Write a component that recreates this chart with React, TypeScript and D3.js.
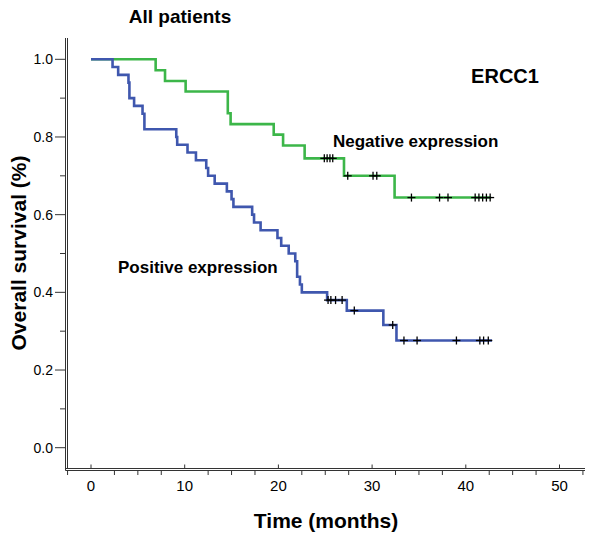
import React, { useEffect, useRef } from 'react';
import * as d3 from 'd3';

// Kaplan-Meier steps (months, survival proportion)
const negTimes = [0, 6.9, 7.9, 10.1, 14.6, 14.9, 19.5, 20.5, 22.8, 27.0, 32.4, 42.7];
const negSurv = [1.0, 0.972, 0.944, 0.917, 0.861, 0.833, 0.806, 0.778, 0.745, 0.70, 0.644, 0.644];
const negCensor = [24.9, 25.2, 25.5, 25.8, 27.4, 30.1, 30.5, 34.2, 37.2, 38.1, 41.0, 41.4, 41.8, 42.2, 42.6];

const posTimes = [0, 2.3, 2.9, 4.0, 4.1, 4.6, 5.5, 5.7, 9.1, 9.2, 10.3, 11.2, 12.3, 12.5, 13.2, 14.5, 15.0, 15.2,
  17.2, 17.4, 18.1, 19.9, 20.3, 21.1, 21.8, 22.0, 22.3, 22.5, 25.2, 27.3, 31.2, 32.6, 42.8];
const posSurv = [1.0, 0.98, 0.96, 0.94, 0.90, 0.88, 0.86, 0.82, 0.80, 0.78, 0.76, 0.74, 0.72, 0.70, 0.68, 0.66, 0.64, 0.62,
  0.60, 0.58, 0.56, 0.54, 0.52, 0.50, 0.48, 0.44, 0.42, 0.40, 0.38, 0.353, 0.316, 0.276, 0.276];
const posCensor = [25.3, 25.6, 26.1, 26.8, 28.1, 32.2, 33.4, 34.8, 39.0, 41.5, 41.9, 42.4];

const xTicks = [0, 10, 20, 30, 40, 50];
const xMinor = [-2.5, 2.5, 5, 7.5, 12.5, 15, 17.5, 22.5, 25, 27.5, 32.5, 35, 37.5, 42.5, 45, 47.5, 52.5];
const yTicks = [0, 0.2, 0.4, 0.6, 0.8, 1.0];
const yMinor = [0.1, 0.3, 0.5, 0.7, 0.9];

const FONT = '"Liberation Sans", Arial, sans-serif';

export default function App() {
  const ref = useRef<SVGSVGElement>(null);

  useEffect(() => {
    const svg = d3.select(ref.current);
    svg.selectAll('*').remove();

    const x = d3.scaleLinear().domain([0, 50]).range([91, 559.5]);
    const y = d3.scaleLinear().domain([0, 1]).range([447.7, 59.3]);
    const axisX = 65.5;
    const axisY = 468.5;
    const axisRight = 585;
    const axisTop = 38;

    // axes (double line like SPSS output)
    const ax = svg.append('g').attr('stroke', '#333').attr('stroke-width', 1);
    ax.append('line').attr('x1', axisX).attr('x2', axisX).attr('y1', axisTop).attr('y2', axisY + 2);
    ax.append('line').attr('x1', axisX + 2).attr('x2', axisX + 2).attr('y1', axisTop).attr('y2', axisY);
    ax.append('line').attr('x1', axisX).attr('x2', axisRight).attr('y1', axisY).attr('y2', axisY);
    ax.append('line').attr('x1', axisX).attr('x2', axisRight).attr('y1', axisY + 2).attr('y2', axisY + 2);

    // y ticks
    yTicks.forEach(d => {
      ax.append('line').attr('x1', 55).attr('x2', axisX).attr('y1', y(d)).attr('y2', y(d));
      svg.append('text')
        .attr('x', 53).attr('y', y(d)).attr('dy', '0.36em')
        .attr('text-anchor', 'end')
        .style('font-family', FONT).style('font-size', '14px')
        .text(d.toFixed(1));
    });
    yMinor.forEach(d => {
      ax.append('line').attr('x1', 60).attr('x2', axisX).attr('y1', y(d)).attr('y2', y(d));
    });

    // x ticks
    xTicks.forEach(d => {
      ax.append('line').attr('x1', x(d)).attr('x2', x(d)).attr('y1', 464.5).attr('y2', axisY);
      svg.append('text')
        .attr('x', x(d)).attr('y', 490.5)
        .attr('text-anchor', 'middle')
        .style('font-family', FONT).style('font-size', '15px')
        .text(d);
    });
    xMinor.forEach(d => {
      ax.append('line').attr('x1', x(d)).attr('x2', x(d)).attr('y1', axisY + 2).attr('y2', 475);
    });

    // curves
    const line = d3.line<[number, number]>()
      .x(d => x(d[0]))
      .y(d => y(d[1]))
      .curve(d3.curveStepAfter);

    function drawCurve(times: number[], surv: number[], censor: number[], color: string) {
      const pts = times.map((t, i) => [t, surv[i]] as [number, number]);
      svg.append('path')
        .attr('d', line(pts))
        .attr('fill', 'none')
        .attr('stroke', color)
        .attr('stroke-width', 2.6);
      const bis = d3.bisector((t: number) => t).right;
      censor.forEach(c => {
        const s = surv[Math.max(0, bis(times, c) - 1)];
        const cx = x(c), cy = y(s);
        const g = svg.append('g').attr('stroke', '#000').attr('stroke-width', 1.3);
        g.append('line').attr('x1', cx - 4).attr('x2', cx + 4).attr('y1', cy).attr('y2', cy);
        g.append('line').attr('x1', cx).attr('x2', cx).attr('y1', cy - 4).attr('y2', cy + 4);
      });
    }

    drawCurve(negTimes, negSurv, negCensor, '#3cb649');
    drawCurve(posTimes, posSurv, posCensor, '#3f57ae');

    // text
    const bold = (sel: any, size: number) =>
      sel.style('font-family', FONT).style('font-weight', 'bold').style('font-size', size + 'px');

    bold(svg.append('text').attr('x', 180).attr('y', 23).attr('text-anchor', 'middle'), 19).text('All patients');
    bold(svg.append('text').attr('x', 505).attr('y', 83).attr('text-anchor', 'middle'), 20).text('ERCC1');
    bold(svg.append('text').attr('x', 333).attr('y', 147), 17).text('Negative expression');
    bold(svg.append('text').attr('x', 118).attr('y', 273), 17).text('Positive expression');
    bold(svg.append('text').attr('x', 326).attr('y', 528).attr('text-anchor', 'middle'), 21).text('Time (months)');
    bold(svg.append('text')
      .attr('transform', 'translate(26,253) rotate(-90)')
      .attr('text-anchor', 'middle'), 21).text('Overall survival (%)');
  }, []);

  return (
    <svg ref={ref} width={600} height={543}
      style={{ position: 'absolute', left: 0, top: 0, background: '#fff' }} />
  );
}
